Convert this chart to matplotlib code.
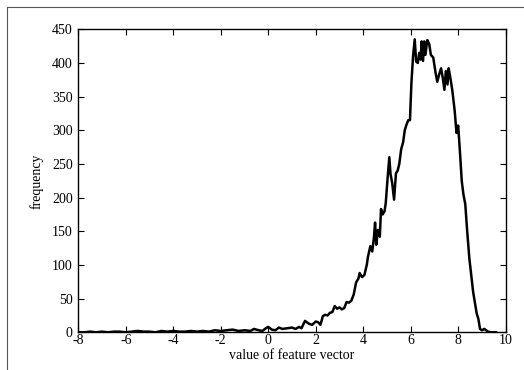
import matplotlib
matplotlib.use("Agg")
import matplotlib.pyplot as plt
from matplotlib.lines import Line2D

# histogram of the feature values
feature_value = [
    -8.0, -7.75, -7.5, -7.25, -7.0, -6.75, -6.5, -6.25, -6.0, -5.75,
    -5.5, -5.25, -5.0, -4.75, -4.5, -4.25, -4.0, -3.75, -3.5, -3.25,
    -3.0, -2.75, -2.5, -2.25, -2.0, -1.75, -1.5, -1.25, -1.0, -0.75,
    -0.6, -0.4, -0.25, -0.1, 0.0, 0.15, 0.3, 0.45, 0.6, 0.8,
    1.0, 1.15, 1.3, 1.4, 1.55, 1.7, 1.85, 2.0, 2.1, 2.2,
    2.3, 2.4, 2.5, 2.6, 2.7, 2.8, 2.9, 3.0, 3.1, 3.2,
    3.3, 3.4, 3.5, 3.6, 3.7, 3.8, 3.85, 3.95, 4.05, 4.15,
    4.2, 4.3, 4.38, 4.45, 4.5, 4.55, 4.62, 4.7, 4.75, 4.82,
    4.9, 4.95, 5.03, 5.1, 5.15, 5.22, 5.3, 5.38, 5.45, 5.52,
    5.6, 5.68, 5.75, 5.82, 5.9, 5.97, 6.03, 6.1, 6.17, 6.23,
    6.3, 6.36, 6.42, 6.46, 6.52, 6.57, 6.62, 6.7, 6.78, 6.85,
    6.95, 7.05, 7.12, 7.2, 7.28, 7.35, 7.42, 7.48, 7.55, 7.6,
    7.67, 7.75, 7.85, 7.93, 8.0, 8.08, 8.15, 8.22, 8.3, 8.38,
    8.47, 8.55, 8.63, 8.7, 8.78, 8.85, 8.92, 9.0, 9.1, 9.18,
    9.25, 9.4, 9.6,
]
frequency = [
    0, 0, 1, 0, 1, 0, 1, 1, 0, 1,
    2, 1, 1, 0, 2, 1, 2, 1, 1, 2,
    1, 2, 1, 3, 2, 3, 4, 2, 3, 2,
    5, 3, 2, 6, 8, 4, 3, 7, 5, 6,
    7, 5, 8, 6, 17, 13, 11, 16, 15, 11,
    24, 26, 25, 29, 30, 39, 35, 37, 34, 36,
    45, 44, 47, 56, 74, 80, 88, 82, 85, 100,
    112, 128, 120, 140, 163, 130, 152, 142, 183, 175,
    180, 192, 230, 260, 235, 222, 197, 236, 240, 250,
    272, 282, 300, 308, 315, 315, 370, 410, 435, 402,
    400, 415, 405, 432, 403, 432, 412, 434, 428, 412,
    408, 385, 372, 383, 392, 378, 360, 388, 368, 392,
    378, 360, 330, 296, 307, 265, 225, 205, 190, 150,
    110, 85, 60, 45, 28, 20, 5, 3, 5, 3,
    1, 0, 0,
]
x_ticks = [-8, -6, -4, -2, 0, 2, 4, 6, 8, 10]
y_ticks = [0, 50, 100, 150, 200, 250, 300, 350, 400, 450]

plt.rcParams['font.family'] = ['Liberation Serif', 'DejaVu Serif']
plt.rcParams['axes.unicode_minus'] = False

fig = plt.figure(figsize=(5.24, 3.70), dpi=100)
ax = fig.add_axes([0.1494, 0.1019, 0.8156, 0.819])
ax.plot(feature_value, frequency, color='black', linewidth=1.8)

ax.set_xlim(-8, 10)
ax.set_ylim(0, 450)
ax.set_xticks(x_ticks)
ax.set_yticks(y_ticks)
ax.tick_params(direction='in', top=True, right=True, length=4, width=0.8,
               labelsize=10)
ax.tick_params(axis='y', pad=4)
ax.tick_params(axis='x', pad=1.5)
for s in ax.spines.values():
    s.set_linewidth(1.0)

ax.set_xlabel('value of feature vector', fontsize=10, labelpad=1)
ax.set_ylabel('frequency', fontsize=10, labelpad=6)

# page frame from the scan (left and top edges only)
fig.add_artist(Line2D([7 / 524, 7 / 524], [0, 1 - 7 / 370],
                      transform=fig.transFigure, color='#555555', lw=0.8))
fig.add_artist(Line2D([7 / 524, 1], [1 - 7 / 370, 1 - 7 / 370],
                      transform=fig.transFigure, color='#555555', lw=0.8))

fig.savefig("out.png", dpi=100)
